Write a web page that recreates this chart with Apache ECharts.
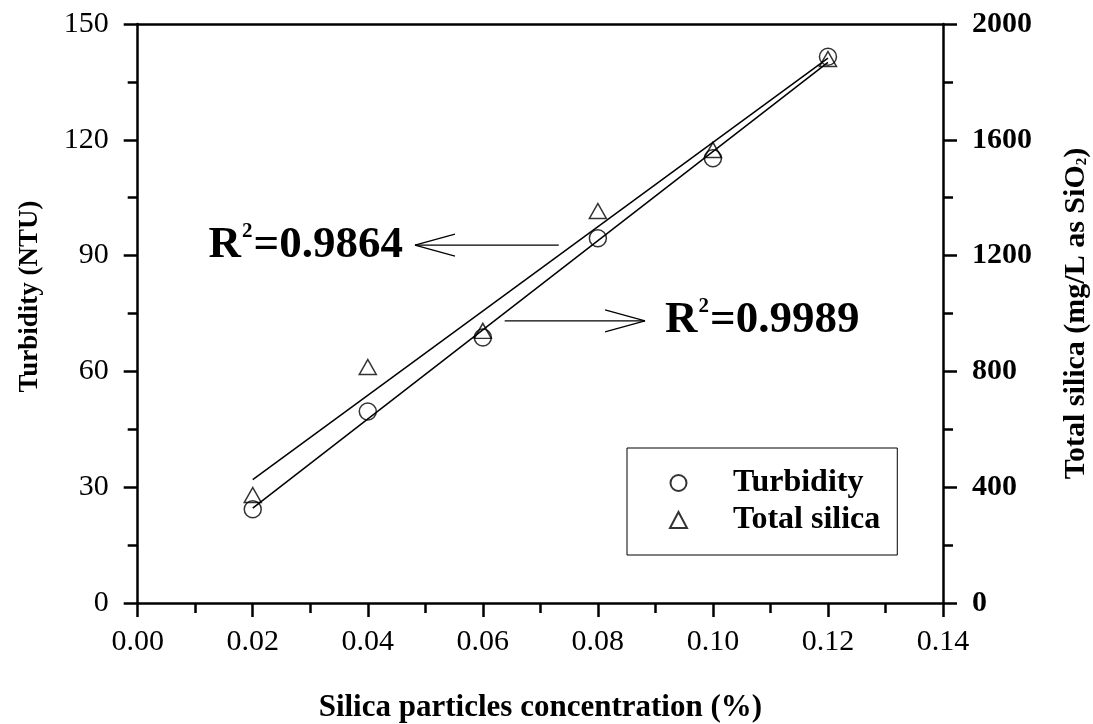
<!DOCTYPE html>
<html>
<head>
<meta charset="utf-8">
<title>Turbidity and total silica vs silica particles concentration</title>
<script src="https://cdn.jsdelivr.net/npm/echarts@6/dist/echarts.min.js"></script>
<style>
  html, body { margin: 0; padding: 0; background: #fff; }
  #chart { width: 1093px; height: 724px; }
</style>
</head>
<body>
<div id="chart"></div>
<script>
// Silica particle concentration (%)
const concentration = [0.02, 0.04, 0.06, 0.08, 0.10, 0.12];
// Measured turbidity (NTU), left axis
const turbidity = [24.3, 49.6, 68.8, 94.5, 115.2, 141.5];
// Measured total silica (mg/L as SiO2), right axis
const totalSilica = [373, 815, 940, 1354, 1565, 1879];

// Axis tick ranges
const xTicks = { min: 0, max: 0.14, step: 0.02 };
const leftTicks = { min: 0, max: 150, step: 30 };
const rightTicks = { min: 0, max: 2000, step: 400 };

// Goodness-of-fit annotations: [fromX, fromY, tipX, tipY] in turbidity-axis units
const r2Values = ['0.9864', '0.9989'];
const r2Arrows = [
  [0.0732, 92.7, 0.0482, 92.7],
  [0.0638, 73.1, 0.0882, 73.1]
];

const FONT = '"Liberation Serif", "Times New Roman", Times, serif';

// Least-squares straight line through (xs, ys), returned as its two end points
function linearFit(xs, ys) {
  const n = xs.length;
  const mx = xs.reduce((a, b) => a + b, 0) / n;
  const my = ys.reduce((a, b) => a + b, 0) / n;
  let sxy = 0, sxx = 0;
  for (let i = 0; i < n; i++) {
    sxy += (xs[i] - mx) * (ys[i] - my);
    sxx += (xs[i] - mx) * (xs[i] - mx);
  }
  const slope = sxy / sxx;
  const icpt = my - slope * mx;
  const x0 = xs[0], x1 = xs[n - 1];
  return [[x0, icpt + slope * x0], [x1, icpt + slope * x1]];
}

const pairs = (xs, ys) => xs.map((x, i) => [x, ys[i]]);

const axisLineStyle = { color: '#000', width: 2.5 };
const tickStyle = { color: '#000', width: 2.5 };

const chart = echarts.init(document.getElementById('chart'), null, { renderer: 'canvas' });

const option = {
  backgroundColor: '#fff',
  animation: false,
  grid: {
    left: 137.7, right: 150, top: 24, bottom: 121,
    containLabel: false,
    outerBoundsMode: 'none'
  },
  legend: {
    orient: 'vertical',
    left: 627,
    top: 448,
    data: ['Turbidity', 'Total silica'],
    itemWidth: 17,
    itemHeight: 16,
    itemGap: 5,
    padding: [19, 17, 19, 42],
    borderColor: '#000',
    borderWidth: 1,
    textStyle: {
      fontFamily: FONT, fontWeight: 'bold', fontSize: 32, color: '#000',
      padding: [0, 0, 0, 41]
    }
  },
  xAxis: [
    {
      type: 'value',
      position: 'bottom',
      min: xTicks.min, max: xTicks.max, interval: xTicks.step,
      name: 'Silica particles concentration (%)',
      nameLocation: 'middle',
      nameGap: 89,
      nameTextStyle: { fontFamily: FONT, fontWeight: 'bold', fontSize: 31, color: '#000' },
      axisLine: { show: true, onZero: false, lineStyle: axisLineStyle },
      axisTick: { show: true, length: 14, lineStyle: tickStyle },
      minorTick: { show: true, splitNumber: 2, length: 10, lineStyle: tickStyle },
      axisLabel: {
        margin: 24,
        fontFamily: FONT, fontSize: 30, color: '#000',
        formatter: v => v.toFixed(2)
      },
      splitLine: { show: false }
    },
    {
      type: 'value',
      position: 'top',
      min: xTicks.min, max: xTicks.max, interval: xTicks.step,
      axisLine: { show: true, onZero: false, lineStyle: axisLineStyle },
      axisTick: { show: false },
      axisLabel: { show: false },
      splitLine: { show: false }
    }
  ],
  yAxis: [
    {
      type: 'value',
      position: 'left',
      min: leftTicks.min, max: leftTicks.max, interval: leftTicks.step,
      name: 'Turbidity (NTU)',
      nameLocation: 'middle',
      nameRotate: 90,
      nameGap: 94,
      nameTextStyle: {
        fontFamily: FONT, fontWeight: 'bold', fontSize: 27, color: '#000',
        padding: [0, 0, 0, 34]
      },
      axisLine: { show: true, onZero: false, lineStyle: axisLineStyle },
      axisTick: { show: true, length: 14, lineStyle: tickStyle },
      minorTick: { show: true, splitNumber: 2, length: 10, lineStyle: tickStyle },
      axisLabel: { margin: 29, fontFamily: FONT, fontSize: 30, color: '#000' },
      splitLine: { show: false }
    },
    {
      type: 'value',
      position: 'right',
      min: rightTicks.min, max: rightTicks.max, interval: rightTicks.step,
      name: 'Total silica (mg/L as SiO{sub|2})',
      nameLocation: 'middle',
      nameRotate: 90,
      nameGap: 118,
      nameTextStyle: {
        fontFamily: FONT, fontWeight: 'bold', fontSize: 30, color: '#000',
        rich: {
          sub: { fontFamily: FONT, fontWeight: 'bold', fontSize: 15, color: '#000', padding: [13, 0, 0, 0] }
        }
      },
      axisLine: { show: true, onZero: false, lineStyle: axisLineStyle },
      axisTick: { show: true, length: 14, lineStyle: tickStyle },
      minorTick: { show: true, splitNumber: 2, length: 10, lineStyle: tickStyle },
      axisLabel: {
        margin: 29, fontFamily: FONT, fontWeight: 'bold', fontSize: 30, color: '#000',
        formatter: v => String(v)
      },
      splitLine: { show: false }
    }
  ],
  series: [
    {
      name: 'Turbidity fit',
      type: 'line',
      xAxisIndex: 0, yAxisIndex: 0,
      data: linearFit(concentration, turbidity),
      showSymbol: false,
      lineStyle: { color: '#000', width: 1.5 },
      silent: true,
      z: 2
    },
    {
      name: 'Total silica fit',
      type: 'line',
      xAxisIndex: 0, yAxisIndex: 1,
      data: linearFit(concentration, totalSilica),
      showSymbol: false,
      lineStyle: { color: '#000', width: 1.5 },
      silent: true,
      z: 2
    },
    {
      name: 'Turbidity',
      type: 'scatter',
      xAxisIndex: 0, yAxisIndex: 0,
      data: pairs(concentration, turbidity),
      symbol: 'circle',
      symbolSize: 17,
      itemStyle: { color: 'rgba(255,255,255,0)', borderColor: '#000', borderWidth: 1.5 },
      z: 3
    },
    {
      name: 'Total silica',
      type: 'scatter',
      xAxisIndex: 0, yAxisIndex: 1,
      data: pairs(concentration, totalSilica),
      symbol: 'triangle',
      symbolSize: [17, 15],
      itemStyle: { color: 'rgba(255,255,255,0)', borderColor: '#000', borderWidth: 1.5 },
      z: 3
    },
    {
      name: 'R2 annotations',
      type: 'custom',
      xAxisIndex: 0, yAxisIndex: 0,
      data: r2Arrows,
      silent: true,
      z: 4,
      renderItem: function (params, api) {
        const from = api.coord([api.value(0), api.value(1)]);
        const tip = api.coord([api.value(2), api.value(3)]);
        const dir = Math.sign(tip[0] - from[0]);
        const headLen = 40, headHalf = 11;
        const stroke = { stroke: '#000', lineWidth: 1.2 };
        const pointsLeft = dir < 0;
        return {
          type: 'group',
          children: [
            { type: 'line', shape: { x1: from[0], y1: from[1], x2: tip[0], y2: tip[1] }, style: stroke },
            { type: 'line', shape: { x1: tip[0], y1: tip[1], x2: tip[0] - dir * headLen, y2: tip[1] - headHalf }, style: stroke },
            { type: 'line', shape: { x1: tip[0], y1: tip[1], x2: tip[0] - dir * headLen, y2: tip[1] + headHalf }, style: stroke },
            {
              type: 'text',
              x: pointsLeft ? tip[0] - 12 : tip[0] + 20,
              y: tip[1],
              style: {
                text: '{b|R}{sup|2}{b|=' + r2Values[params.dataIndex] + '}',
                align: pointsLeft ? 'right' : 'left',
                verticalAlign: 'middle',
                rich: {
                  b: { fontFamily: FONT, fontWeight: 'bold', fontSize: 45, fill: '#000', color: '#000' },
                  sup: {
                    fontFamily: FONT, fontWeight: 'bold', fontSize: 21, fill: '#000', color: '#000',
                    padding: [0, 1, 28, 1]
                  }
                }
              }
            }
          ]
        };
      }
    }
  ]
};

chart.setOption(option);
</script>
</body>
</html>
